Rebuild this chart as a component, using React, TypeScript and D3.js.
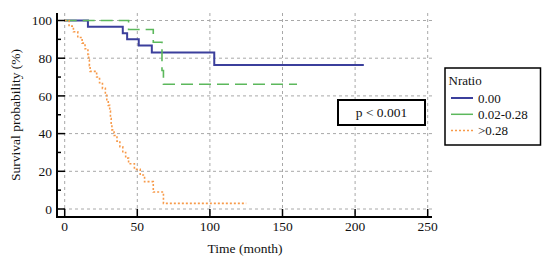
import React from "react";
import * as d3 from "d3";

const xTicks = [0, 50, 100, 150, 200, 250];
const yTicks = [0, 20, 40, 60, 80, 100];
const yMinor = [10, 30, 50, 70, 90];

// [time, survival %]
const blueSteps: [number, number][] = [
  [0, 100], [16, 96.7], [40, 93.3], [43, 90.0], [51, 86.7], [60, 83.0], [103, 76.4], [206, 76.4],
];
const greenSteps: [number, number][] = [
  [0, 100], [44, 95.2], [61, 88.5], [67, 73.5], [68, 66.2], [160, 66.2],
];
const orangeSteps: [number, number][] = [
  [0, 100], [3, 97], [6, 94], [9, 91], [12, 88], [14, 85], [16, 82], [16.5, 79], [17, 76],
  [17.5, 73], [22, 70], [24, 67], [26, 64], [28, 61], [29, 58], [30, 55], [31, 52], [31.5, 48],
  [32, 45], [32.5, 42], [34, 39], [36, 36], [38, 33], [40, 30], [42, 27], [44, 24], [48, 21],
  [52, 18], [55, 14.5], [61, 9], [68, 3], [125, 3],
];

const seriesNames = ["0.00", "0.02-0.28", ">0.28"];
const colors = ["#3b3f9c", "#5cb85c", "#f79a4a"];
const dashes = ["none", "12,6", "2,2"];
const widths = [2, 1.6, 1.6];

const font = "Liberation Serif";

export default function App() {
  const x = d3.scaleLinear().domain([0, 250]).range([64.7, 427.7]);
  const y = d3.scaleLinear().domain([0, 100]).range([209, 20.5]);
  const line = d3
    .line<[number, number]>()
    .x((d) => x(d[0]))
    .y((d) => y(d[1]))
    .curve(d3.curveStepAfter);
  const all = [blueSteps, greenSteps, orangeSteps];
  const ts = { fontFamily: font, fill: "#111" } as React.CSSProperties;
  return (
    <svg
      width={550}
      height={264}
      style={{ position: "absolute", left: 0, top: 0, background: "#fff", fontFamily: font }}
    >
      {xTicks.map((t) => (
        <line key={"gx" + t} x1={x(t)} x2={x(t)} y1={13} y2={217} stroke="#a8a8a8" strokeDasharray="3,3" strokeWidth={1} />
      ))}
      {yTicks.map((t) => (
        <line key={"gy" + t} x1={57} x2={432} y1={y(t)} y2={y(t)} stroke="#a8a8a8" strokeDasharray="3,3" strokeWidth={1} />
      ))}
      {all.map((s, i) => (
        <path
          key={"s" + i}
          d={line(s) || ""}
          fill="none"
          stroke={colors[i]}
          strokeWidth={widths[i]}
          strokeDasharray={dashes[i]}
        />
      ))}
      <line x1={57} x2={57} y1={13} y2={218} stroke="#000" strokeWidth={2} />
      <line x1={56} x2={432} y1={217} y2={217} stroke="#000" strokeWidth={2} />
      {yTicks.map((t) => (
        <g key={"yt" + t}>
          <line x1={57} x2={65} y1={y(t)} y2={y(t)} stroke="#000" strokeWidth={1.5} />
          <text x={52} y={y(t)} dy="0.35em" textAnchor="end" fontSize={13.5} style={ts}>
            {t}
          </text>
        </g>
      ))}
      {yMinor.map((t) => (
        <line key={"ym" + t} x1={57} x2={61} y1={y(t)} y2={y(t)} stroke="#000" strokeWidth={1.5} />
      ))}
      {xTicks.map((t) => (
        <g key={"xt" + t}>
          <line x1={x(t)} x2={x(t)} y1={217} y2={209} stroke="#000" strokeWidth={1.5} />
          <text x={x(t)} y={231} textAnchor="middle" fontSize={13.5} style={ts}>
            {t}
          </text>
        </g>
      ))}
      <text x={245} y={253} textAnchor="middle" fontSize={13.5} style={ts}>
        Time (month)
      </text>
      <text transform="translate(19.5,115) rotate(-90)" textAnchor="middle" fontSize={13.5} style={ts}>
        Survival probability (%)
      </text>
      <rect x={338} y={100} width={87} height={25} fill="#fff" stroke="#000" strokeWidth={2} />
      <text x={381.5} y={117} textAnchor="middle" fontSize={13.5} style={ts}>
        p &lt; 0.001
      </text>
      <rect x={445} y={68} width={95.5} height={77} fill="#fff" stroke="#000" strokeWidth={1.5} />
      <text x={448.5} y={85} fontSize={13} style={ts}>
        Nratio
      </text>
      {seriesNames.map((n, i) => (
        <g key={"lg" + i}>
          <line
            x1={451}
            x2={473}
            y1={98 + i * 16.3}
            y2={98 + i * 16.3}
            stroke={colors[i]}
            strokeWidth={i === 0 ? 2 : 1.5}
            strokeDasharray={i === 2 ? "2,2" : "none"}
          />
          <text x={478} y={98 + i * 16.3} dy="0.35em" fontSize={13} style={ts}>
            {n}
          </text>
        </g>
      ))}
    </svg>
  );
}
